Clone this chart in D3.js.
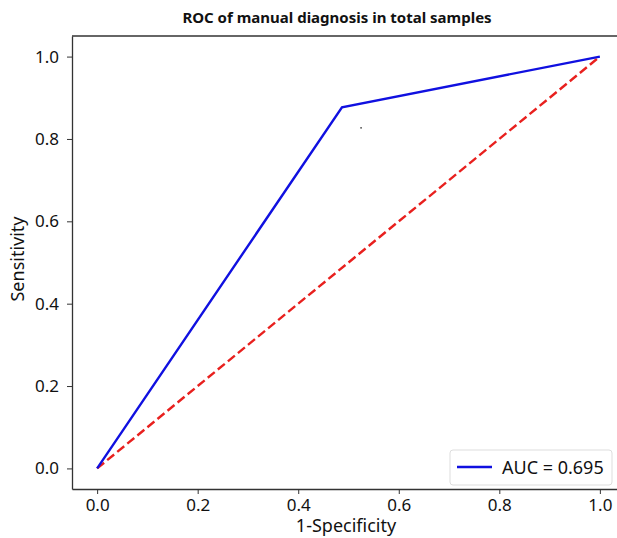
<!DOCTYPE html>
<html lang="en">
<head>
	<meta charset="utf-8">
	<title>ROC of manual diagnosis</title>
	<style>
        body { margin: 0; background: #fff; }
        text { font-family: "Noto Sans", "DejaVu Sans", sans-serif; fill: #111; }
        .tick text { font-size: 17px; }
        .tick line { stroke: #333; }
        .domain { stroke: #333; stroke-width: 1.3px; }
	</style>
	<script src="https://d3js.org/d3.v7.min.js"></script>
</head>
<body>
    <svg width="617" height="538"></svg>

	<script>
        // ROC points (1-specificity, sensitivity)
        const fpr = [0, 0.487, 1];
        const tpr = [0, 0.877, 1];
        const chanceX = [0, 1];
        const chanceY = [0, 1];
        const ticks = [0, 0.2, 0.4, 0.6, 0.8, 1.0];
        const auc = 0.695;
        const speck = [0.525, 0.827];

        let svg = d3.select("svg"),
            mLeft = 72, mRight = 625, mTop = 36, mBottom = 489;

        let x = d3.scaleLinear().domain([-0.05, 1.05]).range([mLeft, mRight]),
            y = d3.scaleLinear().domain([-0.05, 1.05]).range([mBottom, mTop]);

        // frame
        svg.append("line").attr("x1", mLeft).attr("x2", mRight).attr("y1", mTop).attr("y2", mTop)
            .attr("stroke", "#333").attr("stroke-width", 1.3);
        svg.append("line").attr("x1", mRight).attr("x2", mRight).attr("y1", mTop).attr("y2", mBottom)
            .attr("stroke", "#333").attr("stroke-width", 1.3);

        svg.append("g").attr("transform", `translate(0,${mBottom})`)
            .call(d3.axisBottom(x).tickValues(ticks).tickFormat(d3.format(".1f"))
                .tickSizeInner(5).tickSizeOuter(0).tickPadding(5));
        svg.append("g").attr("transform", `translate(${mLeft},0)`)
            .call(d3.axisLeft(y).tickValues(ticks).tickFormat(d3.format(".1f"))
                .tickSizeInner(5).tickSizeOuter(0).tickPadding(8));

        let line = d3.line().x(d => x(d[0])).y(d => y(d[1]));

        svg.append("path")
            .datum(chanceX.map((v, i) => [v, chanceY[i]]))
            .attr("d", line).attr("fill", "none")
            .attr("stroke", "#e8201e").attr("stroke-width", 2.4)
            .attr("stroke-dasharray", "9,4");

        svg.append("path")
            .datum(fpr.map((v, i) => [v, tpr[i]]))
            .attr("d", line).attr("fill", "none")
            .attr("stroke", "#1010e0").attr("stroke-width", 2.4);

        svg.append("circle").attr("cx", x(speck[0])).attr("cy", y(speck[1])).attr("r", 0.9).attr("fill", "#444");

        // title and labels
        svg.append("text").attr("x", 337).attr("y", 23).attr("text-anchor", "middle")
            .style("font-size", "15px").style("font-weight", "bold").text("ROC of manual diagnosis in total samples");
        svg.append("text").attr("x", 346).attr("y", 532).attr("text-anchor", "middle")
            .style("font-size", "18px").text("1-Specificity");
        svg.append("text").attr("transform", "translate(24,259) rotate(-90)").attr("text-anchor", "middle")
            .style("font-size", "18px").text("Sensitivity");

        // legend
        let lg = svg.append("g").attr("transform", "translate(450,450)");
        lg.append("rect").attr("width", 162).attr("height", 35).attr("rx", 3)
            .attr("fill", "#fff").attr("stroke", "#ddd");
        lg.append("line").attr("x1", 7).attr("x2", 42).attr("y1", 17).attr("y2", 17)
            .attr("stroke", "#1010e0").attr("stroke-width", 2.4);
        lg.append("text").attr("x", 52).attr("y", 24).style("font-size", "18px")
            .text("AUC = " + auc.toFixed(3));
    </script>
</body>
</html>
